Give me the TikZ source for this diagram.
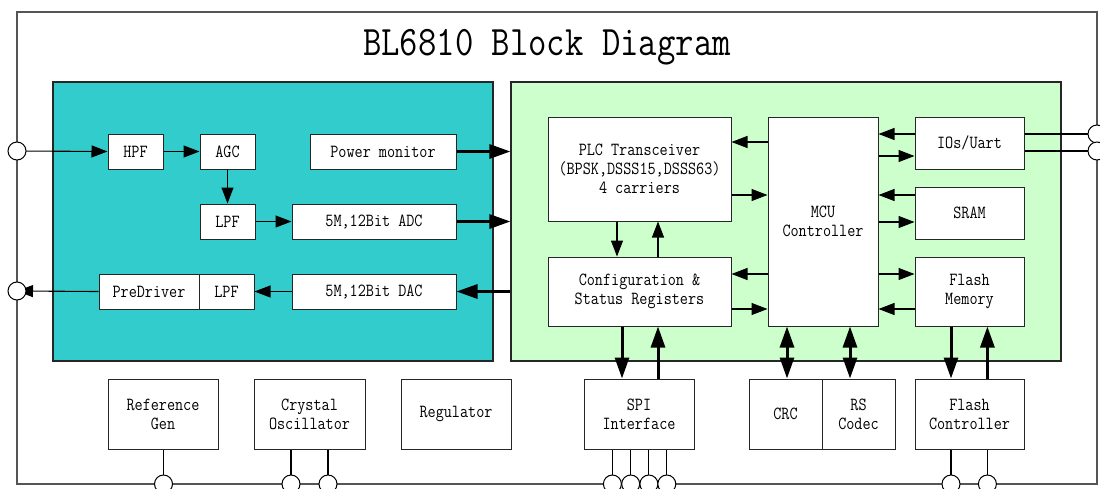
\documentclass[tikz,border=0pt]{standalone}
\usepackage{fontspec}
\newfontfamily\dfont[FakeStretch=0.85]{Latin Modern Mono}
\usetikzlibrary{arrows.meta}
\definecolor{tealfill}{HTML}{33CCCC}
\definecolor{greenfill}{HTML}{CCFFCC}
\definecolor{edge}{HTML}{262626}
\definecolor{framec}{HTML}{555555}
% \mkbox[style]{name}{x1}{y1}{x2}{y2}{text}
\newcommand\mkbox[7][box]{\node[#1, minimum width={(#5-#3)*1pt}, minimum height={(#6-#4)*1pt}] (#2) at ({(#3+#5)/2},{(#4+#6)/2}) {#7};}
\begin{document}
\begin{tikzpicture}[x=1pt,y=-1pt,
  box/.style={draw=edge, line width=1pt, fill=white, inner sep=0pt,
    font=\dfont\fontsize{18.5}{19}\selectfont, align=center},
  region/.style={draw=edge, line width=1.1pt, inner sep=0pt},
  thinarr/.style={line width=1.1pt, -{Triangle[length=16pt,width=12pt]}},
  thickarr/.style={line width=3pt, -{Triangle[length=21pt,width=14pt]}},
  dthickarr/.style={line width=3pt, {Triangle[length=21pt,width=14pt]}-{Triangle[length=21pt,width=14pt]}},
  pin/.style={circle, draw=black, fill=white, line width=1pt, minimum size=18pt, inner sep=0pt},
  wire/.style={line width=1.1pt},
]
\useasboundingbox (0,0) rectangle (1100,488);
\fill[white] (0,0) rectangle (1100,488);
% outer frame
\draw[draw=framec, line width=1.3pt] (17,12) rectangle (1097,484);
\node[font=\dfont\fontsize{42}{42}\selectfont, anchor=base] (title) at (547,55) {BL6810 Block Diagram};

% regions
\mkbox[region, fill=tealfill]{analog}{53}{82}{493}{361}{}
\mkbox[region, fill=greenfill]{digital}{511}{82}{1061}{361}{}

% analog blocks
\mkbox{hpf}{108}{134}{163}{169}{HPF}
\mkbox{agc}{200}{134}{255}{169}{AGC}
\mkbox{pm}{310}{134}{456}{169}{Power monitor}
\mkbox{lpfa}{200}{204}{255}{239}{LPF}
\mkbox{adc}{292}{204}{456}{239}{5M,12Bit ADC}
\mkbox{dac}{292}{274}{456}{309}{5M,12Bit DAC}
\mkbox{lpfb}{199}{274}{254}{309}{LPF}
\mkbox{pre}{99}{274}{199}{309}{PreDriver}

% digital blocks
\mkbox{plc}{548}{117}{731}{221}{PLC Transceiver\\(BPSK,DSSS15,DSSS63)\\4 carriers}
\mkbox{cfg}{548}{257}{731}{326}{Configuration \&\\Status Registers}
\mkbox{mcu}{768}{117}{878}{326}{MCU\\Controller}
\mkbox{ios}{915}{117}{1024}{169}{IOs/Uart}
\mkbox{sram}{915}{187}{1024}{239}{SRAM}
\mkbox{flash}{915}{257}{1024}{326}{Flash\\Memory}

% bottom blocks
\mkbox{ref}{108}{379}{218}{449}{Reference\\Gen}
\mkbox{xtal}{254}{379}{365}{449}{Crystal\\Oscillator}
\mkbox{reg}{401}{379}{511}{449}{Regulator}
\mkbox{spi}{584}{379}{694}{449}{SPI\\Interface}
\mkbox{crc}{749}{379}{822}{449}{CRC}
\mkbox{rs}{822}{379}{895}{449}{RS\\Codec}
\mkbox{fctl}{915}{379}{1024}{449}{Flash\\Controller}

% helper coordinates
\coordinate (pL1) at (17,151);
\coordinate (pL2) at (17,291);
\coordinate (pR1) at (1097,134);
\coordinate (pR2) at (1097,151);
\coordinate (bRef) at (163.5,484);
\coordinate (bX1) at (291,484);
\coordinate (bX2) at (328,484);
\coordinate (bS1) at (612.4,484);
\coordinate (bS2) at (630.7,484);
\coordinate (bS3) at (648.9,484);
\coordinate (bS4) at (666.8,484);
\coordinate (bF1) at (951,484);
\coordinate (bF2) at (987.4,484);
\coordinate (h134) at (0,134);
\coordinate (h142) at (0,142);
\coordinate (h156) at (0,156);
\coordinate (h195) at (0,195);
\coordinate (h222) at (0,222);
\coordinate (h274) at (0,274);
\coordinate (h309) at (0,309);
\coordinate (v617) at (617,0);
\coordinate (v658) at (658,0);
\coordinate (v622) at (622,0);
\coordinate (v787) at (787,0);
\coordinate (v850) at (850,0);
\coordinate (v951) at (951,0);
\coordinate (v987) at (987.4,0);

% analog connectors
\draw[thinarr] (pL1) -- (hpf.west);
\draw[thinarr] (hpf.east) -- (agc.west);
\draw[thinarr] (agc.south) -- (lpfa.north);
\draw[thinarr] (lpfa.east) -- (adc.west);
\draw[thickarr] (pm.east) -- (pm.east -| digital.west);
\draw[thickarr] (adc.east) -- (adc.east -| digital.west);
\draw[thickarr] (dac.east -| digital.west) -- (dac.east);
\draw[thinarr] (dac.west) -- (lpfb.east);
\draw[thinarr] (pre.west) -- (pL2);

% digital connectors
\draw[thinarr] (mcu.west |- h142) -- (plc.east |- h142);
\draw[thinarr] (plc.east |- h195) -- (mcu.west |- h195);
\draw[thinarr] (plc.south -| v617) -- (cfg.north -| v617);
\draw[thinarr] (cfg.north -| v658) -- (plc.south -| v658);
\draw[thinarr] (mcu.west |- h274) -- (cfg.east |- h274);
\draw[thinarr] (cfg.east |- h309) -- (mcu.west |- h309);
\draw[thinarr] (ios.west |- h134) -- (mcu.east |- h134);
\draw[thinarr] (mcu.east |- h156) -- (ios.west |- h156);
\draw[thinarr] (sram.west |- h195) -- (mcu.east |- h195);
\draw[thinarr] (mcu.east |- h222) -- (sram.west |- h222);
\draw[thinarr] (mcu.east |- h274) -- (flash.west |- h274);
\draw[thinarr] (flash.west |- h309) -- (mcu.east |- h309);
\draw[wire] (ios.east |- pR1) -- (pR1);
\draw[wire] (ios.east |- pR2) -- (pR2);

% vertical thick connectors
\draw[thickarr] (cfg.south -| v622) -- (spi.north -| v622);
\draw[thickarr] (spi.north -| v658) -- (cfg.south -| v658);
\draw[dthickarr] (mcu.south -| v787) -- (crc.north -| v787);
\draw[dthickarr] (mcu.south -| v850) -- (rs.north -| v850);
\draw[thickarr] (flash.south -| v951) -- (fctl.north -| v951);
\draw[thickarr] (fctl.north -| v987) -- (flash.south -| v987);

% pin wires
\draw[wire] (ref.south -| bRef) -- (bRef);
\draw[wire] (xtal.south -| bX1) -- (bX1);
\draw[wire] (xtal.south -| bX2) -- (bX2);
\draw[wire] (spi.south -| bS1) -- (bS1);
\draw[wire] (spi.south -| bS2) -- (bS2);
\draw[wire] (spi.south -| bS3) -- (bS3);
\draw[wire] (spi.south -| bS4) -- (bS4);
\draw[wire] (fctl.south -| bF1) -- (bF1);
\draw[wire] (fctl.south -| bF2) -- (bF2);

% pins
\foreach \p in {pL1,pL2,pR1,pR2,bRef,bX1,bX2,bS1,bS2,bS3,bS4,bF1,bF2}
  \node[pin] (pin-\p) at (\p) {};
\end{tikzpicture}
\end{document}
